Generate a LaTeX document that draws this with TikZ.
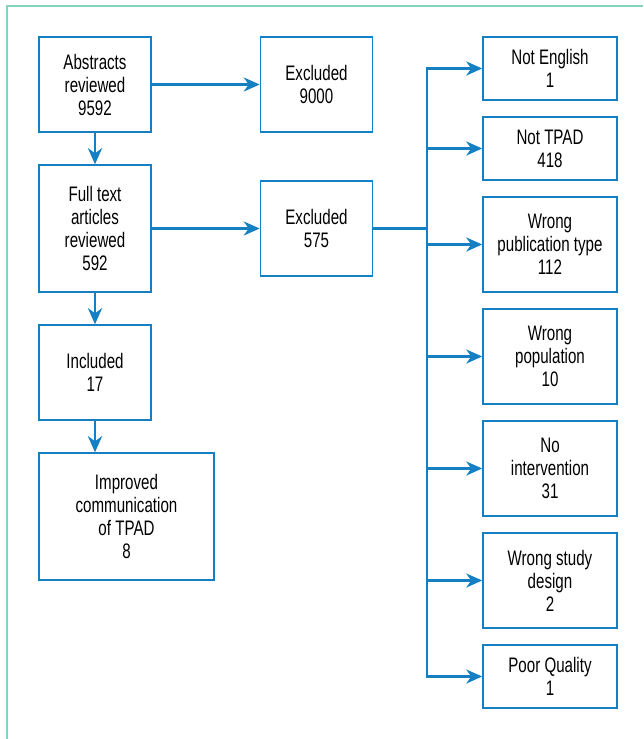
\documentclass[tikz,border=0pt]{standalone}
\usepackage{fontspec}
\setmainfont{Liberation Sans}[FakeStretch=0.72]
\usepackage{xcolor}
\usepackage{tikz}
\usetikzlibrary{arrows.meta, positioning, calc}
\definecolor{flowblue}{HTML}{1380C3}
\definecolor{framegreen}{HTML}{86D3BD}
\tikzstyle{stage} = [rectangle, minimum width=112pt, minimum height=95pt, align=center, inner sep=2pt, draw=flowblue, line width=1.5pt, font=\fontsize{21}{23}\selectfont]
\tikzstyle{reason} = [stage, minimum width=134pt]
\tikzstyle{arrow} = [line width=2.8pt, draw=flowblue, -{Stealth[length=16pt, width=14pt, inset=5pt]}]
\tikzstyle{trunkline} = [line width=2.8pt, draw=flowblue]

\begin{document}
\begin{tikzpicture}[x=1pt, y=-1pt]
  \useasboundingbox (0,0) rectangle (643,739);
  % frame (top and left only)
  \draw[framegreen, line width=1.5pt] (7,739) -- (7,6) -- (643,6);

  % Main column
  \node (abstracts) [stage] at (95,84.5) {Abstracts\\reviewed\\9592};
  \node (fulltext) [stage, minimum height=127pt] at (95,228.5) {Full text\\articles\\reviewed\\592};
  \node (included) [stage] at (95,372.5) {Included\\17};
  \node (improved) [stage, minimum width=175pt, minimum height=127pt] at (126.5,516.5) {Improved\\communication\\of TPAD\\8};

  % Excluded
  \node (excl1) [stage] at (316.5,84.5) {Excluded\\9000};
  \node (excl2) [stage] at (316.5,228.5) {Excluded\\575};

  % Reasons for exclusion
  \node (english) [reason, minimum height=63pt] at (550,68.5) {Not English\\1};
  \node (tpad) [reason, minimum height=63pt] at (550,148.5) {Not TPAD\\418};
  \node (pubtype) [reason] at (550,244.5) {Wrong\\publication type\\112};
  \node (population) [reason] at (550,356.5) {Wrong\\population\\10};
  \node (intervention) [reason] at (550,468.5) {No\\intervention\\31};
  \node (design) [reason] at (550,580.5) {Wrong study\\design\\2};
  \node (quality) [reason, minimum height=63pt] at (550,676.5) {Poor Quality\\1};

  \coordinate (trunk) at (427,0);

  % Arrows
  \draw[arrow] (abstracts.south) -- (fulltext.north);
  \draw[arrow] (fulltext.south) -- (included.north);
  \draw[arrow] (included.south) -- (included.south |- improved.north);
  \draw[arrow] (abstracts.east) -- (excl1.west);
  \draw[arrow] (fulltext.east |- excl2.west) -- (excl2.west);

  \draw[trunkline] (excl2.east) -- (excl2.east -| trunk);
  \draw[trunkline] ([yshift=-1.4pt]trunk |- english.west) -- ([yshift=1.4pt]trunk |- quality.west);
  \foreach \r in {english, tpad, pubtype, population, intervention, design, quality}
    \draw[arrow] ([xshift=-1.4pt]trunk |- \r.west) -- (\r.west);
\end{tikzpicture}
\end{document}
